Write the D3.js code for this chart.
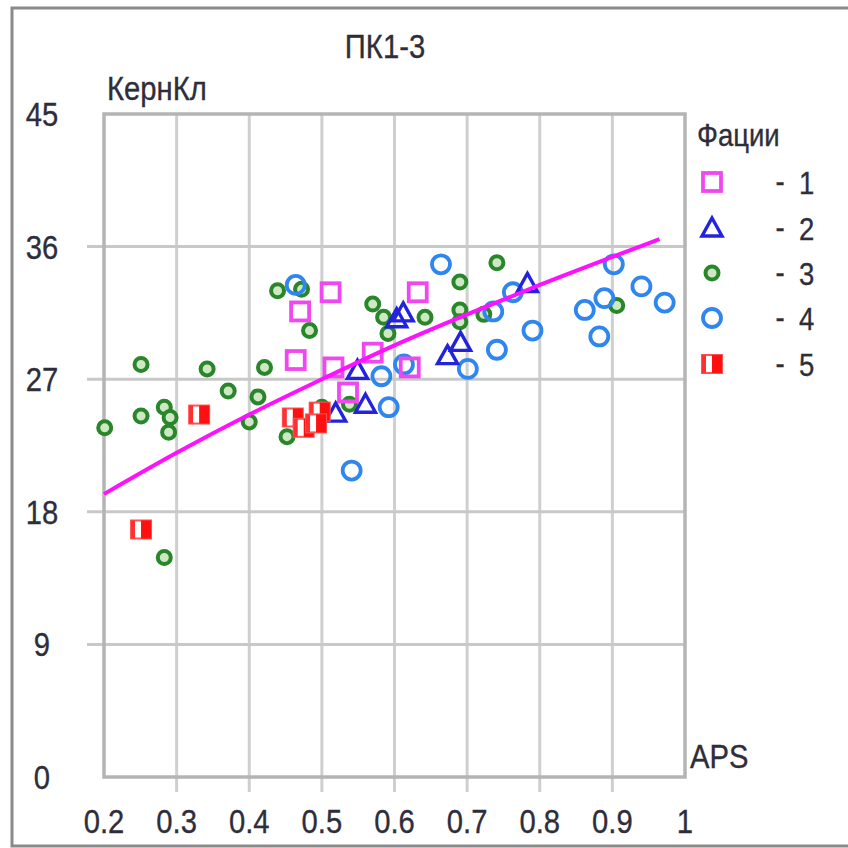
<!DOCTYPE html>
<html>
<head>
<meta charset="utf-8">
<script src="https://cdn.jsdelivr.net/npm/d3@7"></script>
<style>
  html, body { margin: 0; padding: 0; background: #ffffff; }
  svg text { font-family: "Liberation Sans", Arial, sans-serif; fill: #2e2e3a; stroke: #2e2e3a; stroke-width: 0.35; }
</style>
</head>
<body>
<svg id="chart" width="848" height="848"></svg>
<script>
// ---------- data ----------
const title = "ПК1-3";
const yAxisTitle = "КернКл";
const xAxisTitle = "APS";
const legendTitle = "Фации";
const categories = ["1", "2", "3", "4", "5"];

const xTicks = [0.2, 0.3, 0.4, 0.5, 0.6, 0.7, 0.8, 0.9, 1];
const xTickLabels = ["0.2", "0.3", "0.4", "0.5", "0.6", "0.7", "0.8", "0.9", "1"];
const yTicks = [0, 9, 18, 27, 36, 45];
const yTickLabels = ["0", "9", "18", "27", "36", "45"];

// facies 1 : [APS, КернКл]
const facies1 = [[0.464, 28.3], [0.470, 31.6], [0.512, 32.9], [0.632, 32.9],
  [0.516, 27.8], [0.536, 26.1], [0.570, 28.8], [0.621, 27.8]];
// facies 2
const facies2 = [[0.549, 27.6], [0.560, 25.3], [0.519, 24.7], [0.603, 31.1],
  [0.612, 31.5], [0.673, 28.6], [0.691, 29.5], [0.783, 33.5]];
// facies 3
const facies3 = [[0.201, 23.7], [0.251, 28.0], [0.251, 24.5], [0.283, 25.1],
  [0.291, 24.4], [0.289, 23.4], [0.283, 14.9], [0.342, 27.7], [0.371, 26.2],
  [0.400, 24.1], [0.412, 25.8], [0.421, 27.8], [0.439, 33.0], [0.472, 33.1],
  [0.483, 30.3], [0.452, 23.1], [0.500, 25.1], [0.538, 25.3], [0.570, 32.1],
  [0.585, 31.2], [0.591, 30.1], [0.642, 31.2], [0.690, 33.6], [0.690, 31.7],
  [0.690, 30.9], [0.723, 31.4], [0.741, 34.9], [0.906, 32.0]];
// facies 4
const facies4 = [[0.464, 33.4], [0.664, 34.8], [0.613, 28.0], [0.582, 27.2],
  [0.592, 25.1], [0.541, 20.8], [0.701, 27.7], [0.741, 29.0], [0.736, 31.6],
  [0.763, 32.9], [0.790, 30.3], [0.862, 31.7], [0.889, 32.5], [0.882, 29.9],
  [0.902, 34.8], [0.940, 33.3], [0.972, 32.2]];
// facies 5
const facies5 = [[0.251, 16.8], [0.331, 24.6], [0.460, 24.4], [0.475, 23.7],
  [0.497, 24.8], [0.492, 24.0]];

// trend line
const trendAPS = [0.2, 0.3, 0.4, 0.5, 0.6, 0.7, 0.8, 0.9, 0.965];
const trendVal = [19.2, 22.0, 24.6, 27.0, 29.3, 31.4, 33.4, 35.3, 36.5];

// ---------- drawing ----------
const svg = d3.select("#chart");
const x = d3.scaleLinear().domain([0.2, 1]).range([104, 685]);
const y = d3.scaleLinear().domain([0, 45]).range([777, 114]);

// condensed text helper
function label(parent, tx, ty, str, size, anchor) {
  return parent.append("text")
    .attr("transform", `translate(${tx},${ty}) scale(0.86,1)`)
    .attr("text-anchor", anchor || "start")
    .attr("font-size", size)
    .text(str);
}

// outer border
svg.append("rect").attr("x", 12).attr("y", 8).attr("width", 900).attr("height", 838)
  .attr("fill", "none").attr("stroke", "#8a8a8a").attr("stroke-width", 3);

// grid: vertical lines (extend below the frame as ticks)
const innerX = xTicks.filter(d => d > 0.2 && d < 1);
svg.append("g").selectAll("line").data(innerX).join("line")
  .attr("x1", d => x(d)).attr("x2", d => x(d))
  .attr("y1", y(45)).attr("y2", y(0) + 15)
  .attr("stroke", "#cfcfcf").attr("stroke-width", 3);
// grid: horizontal lines (extend left as ticks)
const innerY = yTicks.filter(d => d > 0 && d < 45);
svg.append("g").selectAll("line").data(innerY).join("line")
  .attr("x1", x(0.2) - 17).attr("x2", x(1))
  .attr("y1", d => y(d)).attr("y2", d => y(d))
  .attr("stroke", "#c8c8c8").attr("stroke-width", 3);

// plot frame
svg.append("rect").attr("x", x(0.2)).attr("y", y(45))
  .attr("width", x(1) - x(0.2)).attr("height", y(0) - y(45))
  .attr("fill", "none").attr("stroke", "#b4b4b4").attr("stroke-width", 3.5);

// axis tick labels
const gx = svg.append("g");
xTicks.forEach((d, i) => label(gx, x(d), 833, xTickLabels[i], 34, "middle"));
const gy = svg.append("g");
yTicks.forEach((d, i) => label(gy, 42, y(d) + 12, yTickLabels[i], 34, "middle"));

// titles
label(svg, 385, 58, title, 34, "middle");
label(svg, 107, 100, yAxisTitle, 34);
label(svg, 690, 768, xAxisTitle, 34);

// marker drawers
const colors = {
  sq: "#f048f0", tri: "#2323dc", grn: "#2a862a", grnFill: "#cfe8c4",
  circ: "#2f86ee", red: "#ff1010"
};
function drawMarker(g, type) {
  if (type === 0) {
    g.append("rect").attr("x", -9).attr("y", -9).attr("width", 18).attr("height", 18)
      .attr("fill", "none").attr("stroke", colors.sq).attr("stroke-width", 3.8);
  } else if (type === 1) {
    g.append("path").attr("d", "M0,-10 L10,8 L-10,8 Z")
      .attr("fill", "none").attr("stroke", colors.tri).attr("stroke-width", 3.4)
      .attr("stroke-linejoin", "miter");
  } else if (type === 2) {
    g.append("circle").attr("r", 6.5)
      .attr("fill", colors.grnFill).attr("stroke", colors.grn).attr("stroke-width", 4);
  } else if (type === 3) {
    g.append("circle").attr("r", 9)
      .attr("fill", "none").attr("stroke", colors.circ).attr("stroke-width", 3.8);
  } else {
    g.append("rect").attr("x", -10).attr("y", -9).attr("width", 20).attr("height", 18)
      .attr("fill", "#ffffff").attr("stroke", "#ff5555").attr("stroke-width", 2);
    g.append("rect").attr("x", 0).attr("y", -9).attr("width", 10).attr("height", 18)
      .attr("fill", colors.red);
    g.append("rect").attr("x", -10).attr("y", -9).attr("width", 4).attr("height", 18)
      .attr("fill", "#ff3030");
  }
}

const seriesList = [facies1, facies2, facies3, facies4, facies5];
// draw order: green first, then blue circles, squares, triangles, red
const order = [2, 3, 0, 1, 4];
order.forEach(si => {
  const g = svg.append("g").attr("class", "series-" + categories[si]);
  g.selectAll("g").data(seriesList[si]).join("g")
    .attr("transform", d => `translate(${x(d[0])},${y(d[1])})`)
    .each(function () { drawMarker(d3.select(this), si); });
});

// trend line
const trend = trendAPS.map((a, i) => [a, trendVal[i]]);
svg.append("path").datum(trend)
  .attr("d", d3.line().x(d => x(d[0])).y(d => y(d[1])).curve(d3.curveCatmullRom))
  .attr("fill", "none").attr("stroke", "#ff10ff").attr("stroke-width", 4);

// legend
label(svg, 697, 146, legendTitle, 32);
const legY = [182, 228, 273, 318, 364];
categories.forEach((c, i) => {
  const g = svg.append("g").attr("transform", `translate(712,${legY[i]})`);
  drawMarker(g, i);
  label(svg, 780, legY[i] + 10, "-", 32, "middle");
  label(svg, 799, legY[i] + 12, c, 32);
});
</script>
</body>
</html>
